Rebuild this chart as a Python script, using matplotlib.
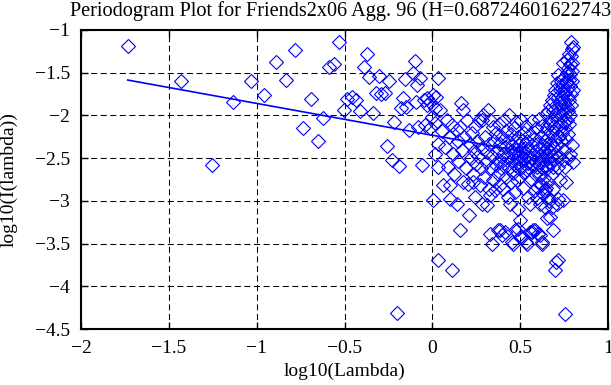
import matplotlib
matplotlib.use("Agg")
import matplotlib.pyplot as plt
from matplotlib.ticker import FuncFormatter, MultipleLocator

plt.rcParams['font.family'] = ['Liberation Serif', 'DejaVu Serif']

# periodogram points (log10 lambda, log10 I(lambda))
low_freq = [
    (-1.734, -1.188), (-1.433, -1.594), (-1.257, -2.586), (-1.132, -1.840),
    (-1.035, -1.594), (-0.956, -1.766), (-0.889, -1.379), (-0.833, -1.586),
    (-0.782, -1.234), (-0.734, -2.153), (-0.691, -1.809), (-0.653, -2.301),
    (-0.624, -2.028), (-0.586, -1.430), (-0.560, -1.400), (-0.533, -1.145),
    (-0.503, -1.940), (-0.488, -1.810), (-0.459, -1.780), (-0.435, -1.820),
    (-0.412, -1.950), (-0.389, -1.430), (-0.374, -1.280), (-0.359, -1.547),
    (-0.336, -1.970), (-0.321, -1.740), (-0.302, -1.535), (-0.294, -1.750),
    (-0.269, -1.740), (-0.260, -2.356), (-0.245, -1.594), (-0.232, -2.524),
    (-0.218, -2.075), (-0.203, -4.314), (-0.188, -2.594), (-0.180, -1.918),
    (-0.165, -1.793), (-0.156, -1.574), (-0.150, -1.906), (-0.131, -2.172),
    (-0.112, -1.508), (-0.099, -1.360), (-0.093, -1.840), (-0.089, -1.645),
    (-0.080, -2.133), (-0.070, -1.567), (-0.061, -2.583), (-0.050, -1.820),
    (-0.042, -2.114), (-0.033, -1.880), (-0.032, -1.800), (-0.014, -1.840),
    (-0.013, -2.153), (-0.004, -2.016), (0.006, -1.760), (0.006, -2.985),
    (0.015, -2.094), (0.015, -1.918), (0.015, -2.446), (0.020, -1.780),
    (0.035, -1.567), (0.032, -3.696), (0.034, -2.330), (0.034, -2.600),
    (0.043, -1.940),
]

mid_freq = [
    (0.055, -2.18), (0.062, -2.82), (0.072, -2.37), (0.081, -2.055), (0.088, -2.60),
    (0.095, -2.25), (0.100, -2.817), (0.100, -2.973), (0.110, -2.11), (0.110, -3.813),
    (0.118, -2.45), (0.125, -2.68), (0.138, -2.17), (0.138, -3.032), (0.145, -2.30),
    (0.148, -2.53),
    (0.157, -3.337), (0.160, -2.13), (0.166, -1.86), (0.170, -2.40), (0.176, -1.94),
    (0.176, -2.778), (0.182, -2.25), (0.190, -2.62), (0.195, -2.05), (0.205, -2.797),
    (0.210, -3.169), (0.212, -2.33), (0.218, -2.50), (0.225, -2.20), (0.230, -2.68),
    (0.233, -2.778), (0.238, -2.42), (0.242, -2.95), (0.245, -2.12), (0.248, -2.57),
    (0.255, -2.30), (0.260, -2.47), (0.265, -2.05), (0.271, -2.817), (0.275, -2.62),
    (0.280, -2.055), (0.280, -3.032), (0.284, -2.38), (0.290, -2.00), (0.295, -2.72),
    (0.300, -2.25), (0.305, -2.55), (0.309, -3.051), (0.312, -2.43), (0.318, -1.94),
    (0.320, -2.86), (0.324, -2.34), (0.328, -2.055), (0.328, -2.934), (0.328, -3.383),
    (0.333, -2.62), (0.337, -3.50), (0.340, -2.47), (0.345, -2.13), (0.347, -2.76),
    (0.352, -2.30), (0.356, -2.875), (0.360, -2.58), (0.363, -2.20), (0.368, -2.42),
    (0.372, -2.68), (0.375, -3.344), (0.378, -2.10), (0.382, -2.52), (0.385, -2.817),
    (0.385, -3.345), (0.388, -2.33), (0.392, -2.62), (0.394, -3.403), (0.396, -2.25),
    (0.400, -2.45), (0.404, -2.856), (0.406, -2.05), (0.410, -2.56), (0.413, -3.364),
    (0.415, -2.37), (0.418, -2.72), (0.421, -2.18), (0.425, -2.49), (0.428, -2.95),
    (0.431, -2.30), (0.435, -2.61), (0.438, -2.00), (0.442, -3.032), (0.444, -2.43),
    (0.447, -2.78), (0.449, -2.22), (0.451, -3.48),
]

peak_freq = [
    (0.452, -2.52), (0.455, -2.36), (0.458, -2.67), (0.461, -3.50), (0.463, -2.15),
    (0.466, -2.44), (0.468, -2.90), (0.470, -3.345), (0.471, -2.30), (0.473, -2.58),
    (0.476, -2.08), (0.478, -2.40), (0.480, -2.75), (0.483, -2.50), (0.485, -2.25),
    (0.487, -3.10), (0.489, -3.325), (0.490, -2.45), (0.492, -2.62), (0.494, -2.35),
    (0.496, -2.55), (0.498, -2.719), (0.498, -3.227), (0.498, -3.422), (0.500, -2.42),
    (0.502, -2.05), (0.505, -2.52), (0.508, -2.30), (0.508, -3.42), (0.511, -2.60),
    (0.514, -2.44), (0.517, -2.85), (0.520, -2.20), (0.523, -2.50), (0.526, -2.38),
    (0.529, -2.66), (0.532, -2.12), (0.535, -2.47), (0.536, -3.48), (0.537, -3.50),
    (0.540, -2.30), (0.544, -2.56), (0.547, -2.95),
    (0.550, -2.40), (0.552, -2.62), (0.555, -3.36), (0.556, -3.032), (0.558, -2.22),
    (0.561, -2.50), (0.563, -2.74), (0.565, -3.364), (0.567, -2.35), (0.570, -2.07),
    (0.572, -2.58), (0.574, -3.345), (0.575, -2.45), (0.577, -2.88), (0.580, -2.28),
    (0.582, -2.53), (0.584, -3.344), (0.586, -2.68), (0.589, -2.15), (0.591, -2.42),
    (0.594, -2.836), (0.594, -2.97), (0.596, -2.60), (0.598, -2.33), (0.600, -2.50),
    (0.603, -3.383), (0.605, -2.04), (0.607, -2.70), (0.609, -2.38), (0.612, -2.797),
    (0.612, -3.032), (0.612, -3.403), (0.614, -2.55), (0.616, -2.25), (0.619, -2.82),
    (0.621, -2.46), (0.622, -3.48), (0.622, -3.50), (0.624, -2.62), (0.626, -2.12),
    (0.628, -2.36), (0.631, -2.92), (0.633, -2.52), (0.635, -2.20), (0.637, -2.73),
    (0.639, -2.42), (0.641, -2.875), (0.641, -3.071), (0.643, -2.30), (0.645, -2.58),
    (0.646, -1.98), (0.648, -2.85), (0.649, -2.48), (0.650, -3.20), (0.650, -2.15),
]

high_freq = [
    (0.652, -2.38), (0.654, -2.62), (0.656, -1.95), (0.658, -2.50), (0.660, -2.954),
    (0.660, -2.78), (0.661, -2.25), (0.663, -3.00), (0.665, -2.42), (0.667, -2.10),
    (0.669, -3.188), (0.670, -2.56), (0.672, -1.88), (0.674, -2.33), (0.675, -2.70),
    (0.677, -2.05), (0.679, -3.071), (0.680, -2.47), (0.682, -1.82), (0.683, -2.20),
    (0.685, -2.60), (0.686, -1.95), (0.688, -2.856), (0.688, -3.344), (0.690, -2.38),
    (0.692, -1.76), (0.693, -2.12), (0.695, -2.52), (0.696, -2.00), (0.698, -3.813),
    (0.699, -2.28),
    (0.700, -1.70), (0.701, -2.45), (0.703, -3.72), (0.704, -2.15), (0.706, -1.88),
    (0.707, -3.032), (0.709, -2.35), (0.710, -1.62), (0.712, -2.05), (0.713, -2.60),
    (0.715, -1.78), (0.717, -1.528), (0.717, -2.973), (0.717, -3.688), (0.719, -2.25),
    (0.721, -1.95), (0.722, -2.48), (0.724, -1.70), (0.726, -2.10), (0.728, -1.85),
    (0.729, -2.75), (0.731, -2.30), (0.733, -1.60), (0.735, -2.00), (0.736, -1.645),
    (0.738, -2.20), (0.740, -1.80), (0.742, -2.52), (0.744, -1.92), (0.745, -1.391),
    (0.745, -1.567), (0.745, -2.99), (0.747, -2.08), (0.749, -1.75),
    (0.750, -2.40), (0.752, -1.86), (0.753, -2.15), (0.755, -1.723), (0.755, -4.321),
    (0.757, -1.98), (0.758, -2.60), (0.760, -1.62), (0.760, -2.78), (0.762, -2.28),
    (0.764, -1.352), (0.764, -1.606), (0.765, -1.90), (0.767, -2.05), (0.768, -1.50),
    (0.770, -1.78), (0.770, -2.50), (0.772, -2.22), (0.774, -1.449), (0.774, -1.684),
    (0.775, -1.95), (0.777, -1.58), (0.778, -1.281), (0.779, -2.10), (0.780, -1.82),
    (0.782, -1.40), (0.783, -1.65), (0.785, -2.00), (0.785, -2.45), (0.786, -1.52),
    (0.788, -1.75), (0.790, -1.137), (0.790, -1.30), (0.791, -1.88), (0.793, -1.391),
    (0.794, -1.60), (0.795, -2.35), (0.796, -1.48), (0.797, -1.22), (0.798, -1.195),
    (0.799, -1.70), (0.800, -2.55),
]

# least-squares fit over the low frequencies (slope 1-2H)
fit_x = [-1.734, 0.500]
fit_y = [-1.586, -2.418]

title = "Periodogram Plot for Friends2x06 Agg. 96 (H=0.68724601622743)"

pts = low_freq + mid_freq + peak_freq + high_freq
xs = [p[0] for p in pts]
ys = [p[1] for p in pts]

fig = plt.figure(figsize=(6.11, 3.85), dpi=100)
ax = fig.add_axes([81 / 611, 1 - 329 / 385, 527 / 611, 299 / 385])

ax.plot(xs, ys, ls='none', marker='D', ms=7.5, mfc='none', mec='#0000ff', mew=0.8)
ax.plot(fit_x, fit_y, color='#0000ff', lw=1.2)

ax.set_xlim(-2, 1)
ax.set_ylim(-4.5, -1)
ax.xaxis.set_major_locator(MultipleLocator(0.5))
ax.yaxis.set_major_locator(MultipleLocator(0.5))
fmt = FuncFormatter(lambda v, p: f"{v:g}".replace('-', '\u2212'))
ax.xaxis.set_major_formatter(fmt)
ax.yaxis.set_major_formatter(fmt)

ax.grid(True, color='black', lw=0.75, ls=(0, (5.8, 3.4)))
ax.tick_params(direction='in', length=5, width=1, top=True, right=True,
               labelsize=14, pad=8)
for s in ax.spines.values():
    s.set_linewidth(1.5)

ax.set_xlabel("log10(Lambda)", fontsize=14, labelpad=4)
ax.set_ylabel("log10(I(lambda))", fontsize=14, labelpad=12)
ax.set_title(title, fontsize=14.6, pad=10)

fig.savefig("out.png", dpi=100)
